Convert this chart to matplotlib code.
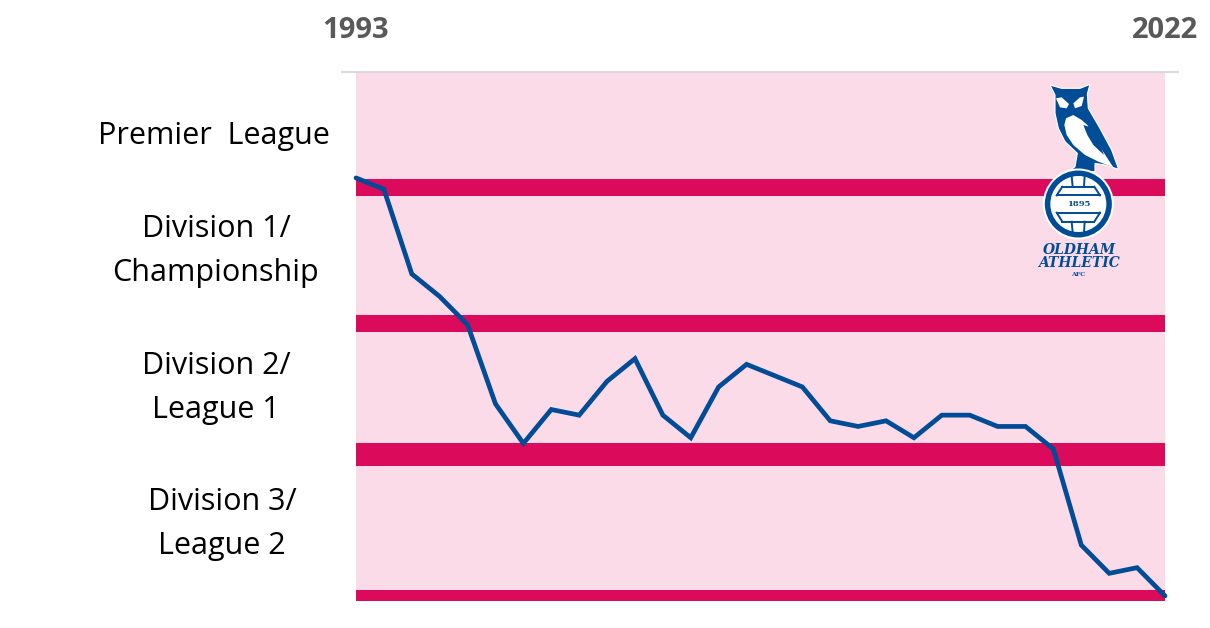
import matplotlib.pyplot as plt
from matplotlib.patches import Circle, Polygon

plt.rcParams["font.family"] = ["Open Sans", "DejaVu Sans"]

# overall league pyramid position at end of each season
years = list(range(1993, 2023))
positions = [19, 21, 36, 40, 45, 59, 66, 60, 61, 55, 51, 61, 65, 56, 52, 54, 56, 62, 63, 62,
             65, 61, 61, 63, 63, 67, 84, 89, 88, 93]

# relegation zones, as pyramid positions
zone_top = [19.2, 43.2, 66, 92]
zone_bottom = [22.2, 46.2, 70, 94]

division_labels = ["Premier  League", "Division 1/\nChampionship", "Division 2/\nLeague 1", "Division 3/\nLeague 2"]
division_label_x = [214, 216, 216, 222]
division_label_y = [136, 251, 388, 524]

BLUE = "#004C97"
RED = "#DC0A5A"
PINK = "#FCDBE9"
GREY = "#595959"

fig = plt.figure(figsize=(12.1, 6.28), dpi=100, facecolor="white")

# main chart, placed on the pixel box of the reference
ax = fig.add_axes([356 / 1210, 1 - 601 / 628, 809 / 1210, 529 / 628], facecolor=PINK)
ax.set_xlim(1993, 2022)
ax.set_ylim(93.9, 0.25)
ax.axis("off")
ax.axhspan(93.9, 0.25, color=PINK, lw=0, zorder=1)
for top, bottom in zip(zone_top, zone_bottom):
    ax.axhspan(top, bottom, color=RED, lw=0, zorder=2)
ax.plot(years, positions, color=BLUE, lw=3.4, clip_on=False, zorder=3, solid_joinstyle="miter", solid_capstyle="round")

# overlay in reference pixels for the labels and the badge
ov = fig.add_axes([0, 0, 1, 1], facecolor="none")
ov.set_xlim(0, 1210)
ov.set_ylim(628, 0)
ov.axis("off")

ov.plot([342, 1178], [72, 72], color="#D9D9D9", lw=1.5, zorder=1)
ov.text(356, 30.5, str(years[0]), color=GREY, fontsize=21, fontweight="bold", ha="center", va="center")
ov.text(1165, 30.5, str(years[-1]), color=GREY, fontsize=21, fontweight="bold", ha="center", va="center")

for label, x, y in zip(division_labels, division_label_x, division_label_y):
    ov.text(x, y, label, color="black", fontsize=22, ha="center", va="center", linespacing=1.6)


def z(points):
    return [(1000 + x / 3, 70 + y / 3) for x, y in points]


owl = [(150, 45), (185, 55), (240, 55), (270, 43), (262, 72), (265, 115), (300, 175), (335, 240), (356, 298),
       (315, 285), (285, 280), (285, 305), (205, 305), (225, 290), (232, 250), (195, 215), (175, 175),
       (165, 130), (165, 75)]
ov.add_patch(Polygon(z(owl), closed=True, fc=BLUE, ec="white", lw=0.8, zorder=5))
belly = [(193, 165), (198, 145), (220, 135), (245, 150), (262, 165), (290, 215), (340, 292), (295, 275), (255, 255),
         (220, 225), (200, 195)]
ov.add_patch(Polygon(z(belly), closed=True, fc="white", lw=0, zorder=6))
feather = [(250, 165), (272, 172), (295, 210), (312, 255), (280, 225), (262, 195)]
ov.add_patch(Polygon(z(feather), closed=True, fc=BLUE, lw=0, zorder=7))
eye_left = [(168, 85), (185, 82), (207, 102), (200, 115), (180, 112)]
eye_right = [(252, 80), (240, 82), (220, 100), (225, 115), (245, 108)]
ov.add_patch(Polygon(z(eye_left), closed=True, fc="white", lw=0, zorder=7))
ov.add_patch(Polygon(z(eye_right), closed=True, fc="white", lw=0, zorder=7))

ball_x, ball_y = z([(235, 402)])[0]
ov.add_patch(Circle((ball_x, ball_y), 35.5, fc="white", lw=0, zorder=5))
ov.add_patch(Circle((ball_x, ball_y), 33.5, fc=BLUE, lw=0, zorder=6))
ov.add_patch(Circle((ball_x, ball_y), 28, fc="white", lw=0, zorder=7))
for start, end in [((187, 350), (283, 350)), ((187, 455), (283, 455)), ((215, 318), (218, 350)),
                   ((254, 318), (252, 350)), ((215, 455), (218, 488)), ((254, 455), (252, 488)),
                   ((170, 376), (300, 376)), ((170, 428), (300, 428)), ((187, 350), (170, 376)),
                   ((283, 350), (300, 376)), ((187, 455), (170, 428)), ((283, 455), (300, 428))]:
    (x0, y0), (x1, y1) = z([start, end])
    ov.plot([x0, x1], [y0, y1], color=BLUE, lw=1.4, zorder=8)
ov.text(ball_x, ball_y + 0.5, "1895", color=BLUE, fontsize=6, fontweight="bold", family="DejaVu Serif",
        ha="center", va="center", zorder=9)

ov.text(1079, 250, "OLDHAM", color=BLUE, fontsize=10, fontweight="bold", style="italic",
        family="DejaVu Serif", ha="center", va="center", zorder=9)
ov.text(1078.5, 263, "ATHLETIC", color=BLUE, fontsize=10, fontweight="bold", style="italic",
        family="DejaVu Serif", ha="center", va="center", zorder=9)
ov.text(1078.5, 274.5, "AFC", color=BLUE, fontsize=4.5, fontweight="bold", family="DejaVu Serif",
        ha="center", va="center", zorder=9)

fig.savefig("out.png", dpi=100)
